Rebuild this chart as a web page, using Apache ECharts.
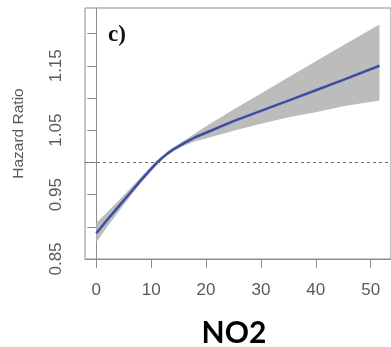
<!DOCTYPE html>
<html><head><meta charset="utf-8">
<script src="https://cdn.jsdelivr.net/npm/echarts@6/dist/echarts.min.js"></script>
<style>html,body{margin:0;padding:0;background:#fff}#c{width:391px;height:347px}</style>
</head><body><div id="c"></div>
<script>
const no2 =   [0,     2,     4,     6,     8,     10,    11,    12,    13,    14,    16,    18,    20,    25,    30,    35,    40,    45,    51.6];
const hr =    [0.890, 0.911, 0.931, 0.951, 0.971, 0.990, 0.999, 1.007, 1.014, 1.020, 1.030, 1.039, 1.046, 1.064, 1.080, 1.096, 1.112, 1.128, 1.150];
const lower = [0.876, 0.900, 0.923, 0.945, 0.967, 0.987, 0.996, 1.004, 1.011, 1.017, 1.026, 1.033, 1.037, 1.049, 1.060, 1.070, 1.078, 1.087, 1.096];
const upper = [0.906, 0.923, 0.940, 0.958, 0.976, 0.994, 1.003, 1.010, 1.017, 1.023, 1.034, 1.045, 1.056, 1.082, 1.107, 1.132, 1.157, 1.182, 1.214];
const xTicks = [0, 10, 20, 30, 40, 50];
const yTicks = [0.85, 0.90, 0.95, 1.00, 1.05, 1.10, 1.15, 1.20];
const yLabels = [0.85, 0.95, 1.05, 1.15];
const refLine = 1.0;

const axisGray = '#8c8c8c';
const labelGray = '#5a5a5a';

const bandRows = no2.map((x, i) => [x, lower[i], upper[i]]);

const chart = echarts.init(document.getElementById('c'), null, {renderer: 'canvas'});
chart.setOption({
  animation: false,
  backgroundColor: '#fff',
  title: [
    {text: 'c)', left: 103, top: 19,
     textStyle: {fontFamily: 'Liberation Serif', fontWeight: 'bold', fontSize: 23, color: '#111'}},
    {text: 'NO2', left: 229, top: 313, textAlign: 'center',
     textStyle: {fontFamily: 'Lato', fontWeight: 'bold', fontSize: 30, color: '#000'}}
  ],
  grid: {left: 85, right: -4, top: 8, bottom: 88, show: true, borderColor: axisGray, borderWidth: 1, containLabel: false},
  xAxis: {
    type: 'value', min: -2.06, max: 53.7,
    axisLine: {show: true, lineStyle: {color: axisGray, width: 1}},
    axisTick: {show: true, length: 9, customValues: xTicks, lineStyle: {color: axisGray}},
    axisLabel: {customValues: xTicks, margin: 23, color: labelGray, fontFamily: 'Liberation Sans', fontSize: 17},
    splitLine: {show: false}
  },
  yAxis: {
    type: 'value', min: 0.85, max: 1.2397,
    name: 'Hazard Ratio', nameLocation: 'middle', nameGap: 58, nameRotate: 90,
    nameTextStyle: {color: labelGray, fontFamily: 'Liberation Sans', fontSize: 15.5},
    axisLine: {show: true, lineStyle: {color: axisGray, width: 1}},
    axisTick: {show: true, length: 9, customValues: yTicks, lineStyle: {color: axisGray}},
    axisLabel: {customValues: yLabels, rotate: 90, margin: 20, color: labelGray,
      fontFamily: 'Liberation Sans', fontSize: 17, formatter: v => v.toFixed(2)},
    splitLine: {show: false}
  },
  series: [
    {type: 'custom', data: bandRows, silent: true, z: 1,
     encode: {x: 0, y: [1, 2]},
     renderItem: function (params, api) {
       if (params.dataIndex !== 0) return null;
       const top = [], bot = [];
       for (let i = 0; i < bandRows.length; i++) {
         top.push(api.coord([bandRows[i][0], bandRows[i][2]]));
         bot.push(api.coord([bandRows[i][0], bandRows[i][1]]));
       }
       const pts = top.concat(bot.reverse());
       return {type: 'polygon', shape: {points: pts}, style: {fill: '#bcbcbc', stroke: null}};
     }},
    {type: 'line', data: no2.map((x, i) => [x, hr[i]]), smooth: false,
     symbol: 'none', lineStyle: {color: '#3d4ca5', width: 2.5, join: 'round'}, z: 3,
     markLine: {silent: true, symbol: 'none', label: {show: false},
       lineStyle: {color: '#6f6f6f', type: [3, 3], width: 1},
       data: [{yAxis: refLine}]}}
  ]
});
</script></body></html>
